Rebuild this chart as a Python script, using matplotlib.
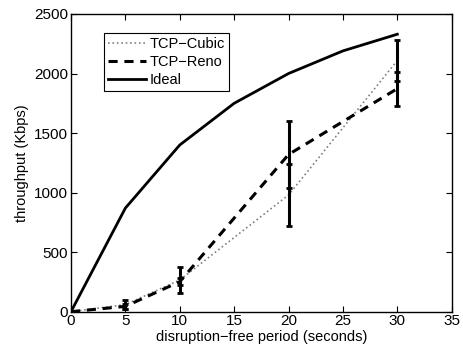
import numpy as np
import matplotlib
matplotlib.use("Agg")
import matplotlib.pyplot as plt

plt.rcParams['font.family'] = ['Liberation Sans', 'DejaVu Sans']

# ── Data ───────────────────────────────────────────────────────────────────
ideal_x = [0, 5, 10, 15, 20, 25, 30]
ideal_y = [0, 870, 1400, 1750, 2000, 2190, 2330]

cubic_x = [0, 5, 10, 20, 30]
cubic_y = [0, 60, 266, 980, 2109]
cubic_err = [0, 40, 106, 260, 171]

reno_x = [0, 5, 10, 20, 30]
reno_y = [0, 45, 252, 1320, 1873]
reno_err = [0, 20, 28, 280, 142]

fig = plt.figure(figsize=(4.63, 3.47), dpi=100)
ax = fig.add_axes([0.1533, 0.1017, 0.8223, 0.858])

ax.plot(cubic_x, cubic_y, color="0.5", linestyle=":", linewidth=1.2, label="TCP\u2212Cubic")
ax.plot(reno_x, reno_y, color="black", linestyle="--", linewidth=2.2,
        dashes=(3, 2.2), label="TCP\u2212Reno")
ax.plot(ideal_x, ideal_y, color="black", linestyle="-", linewidth=2.0, label="Ideal")

# error bars (skip the zero point)
ax.errorbar(cubic_x[1:], cubic_y[1:], yerr=cubic_err[1:], fmt="none",
            ecolor="black", elinewidth=2.2, capsize=2.5, capthick=2.0)
ax.errorbar(reno_x[1:], reno_y[1:], yerr=reno_err[1:], fmt="none",
            ecolor="black", elinewidth=2.2, capsize=2.5, capthick=2.0)

ax.set_xlim(0, 35)
ax.set_ylim(0, 2500)
ax.set_xticks(np.arange(0, 36, 5))
ax.set_yticks(np.arange(0, 2501, 500))
ax.tick_params(direction="in", top=True, right=True, labelsize=11, length=4, width=0.8,
               pad=2)
for s in ax.spines.values():
    s.set_linewidth(1.0)

ax.set_xlabel("disruption\u2212free period (seconds)", fontsize=10.5, labelpad=1)
ax.set_ylabel("throughput (Kbps)", fontsize=10.5, labelpad=4)

leg = ax.legend(loc="upper left", bbox_to_anchor=(0.087, 0.936), fontsize=10.5,
                frameon=True, fancybox=False, edgecolor="black", framealpha=1,
                handlelength=2.6, borderpad=0.3, labelspacing=0.25, handletextpad=0.2,
                borderaxespad=0)
leg.get_frame().set_linewidth(0.8)

fig.savefig("out.png", dpi=100)
